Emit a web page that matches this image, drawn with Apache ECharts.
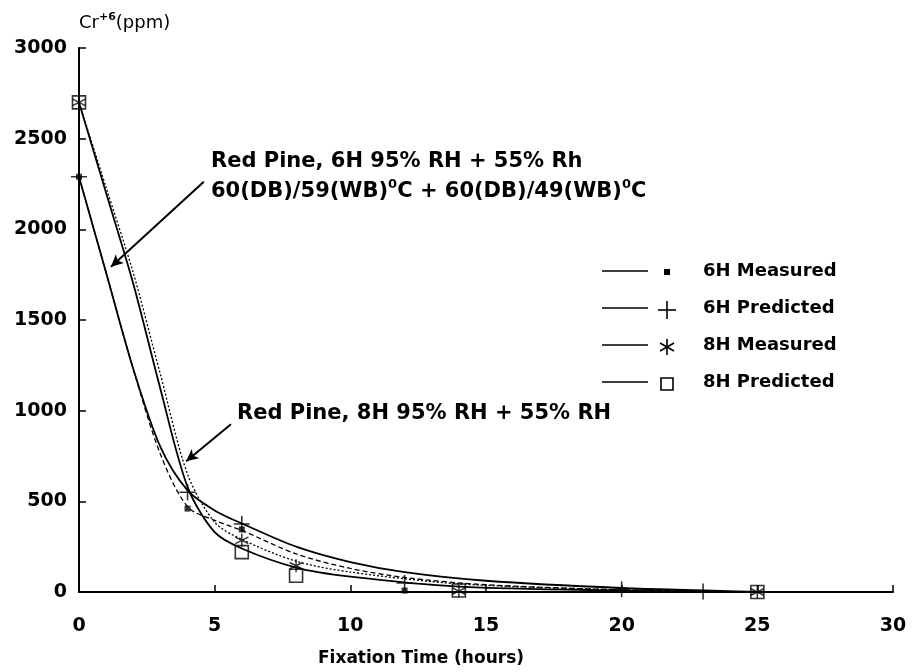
<!DOCTYPE html>
<html>
<head>
<meta charset="utf-8">
<script src="https://cdn.jsdelivr.net/npm/echarts@6/dist/echarts.min.js"></script>
<style>
  html, body { margin: 0; padding: 0; background: #fff; }
  #main { width: 914px; height: 672px; }
</style>
</head>
<body>
<div id="main"></div>
<script>
// tick values
var xTicks = [0, 5, 10, 15, 20, 25, 30];
var yTicks = [0, 500, 1000, 1500, 2000, 2500, 3000];

// plotted markers [hours, ppm]
var measured6H = [[0, 2290], [4, 460], [6, 345], [12, 8]];
var predicted6H = [[0, 2290], [4, 550], [6, 375], [12, 50], [20, 15], [23, 3]];
var measured8H = [[0, 2700], [6, 285], [8, 145], [14, 5], [25, 0]];
var predicted8H = [[0, 2700], [6, 220], [8, 90], [14, 8], [25, 0]];

// fitted curves
var curve6HPred = [[0, 2290], [1, 1760], [2, 1230], [3, 800], [4, 560], [5, 450], [6, 378], [8, 250], [10, 165], [12, 110], [15, 62], [20, 22], [25, 0]];
var curve6HMeas = [[0, 2290], [1, 1760], [2, 1230], [3, 760], [4, 470], [5, 395], [6, 340], [8, 210], [10, 130], [12, 80], [15, 40], [20, 12], [25, 0]];
var curve8HMeas = [[0, 2700], [1, 2230], [2, 1760], [3, 1200], [4, 650], [5, 385], [6, 290], [8, 170], [10, 110], [14, 45], [20, 12], [25, 0]];
var curve8HPred = [[0, 2700], [1, 2200], [2, 1700], [3, 1120], [4, 580], [5, 330], [6, 240], [8, 135], [10, 85], [14, 30], [20, 8], [25, 0]];

// annotation arrows [from, to] in data units
var arrow6H = [[4.6, 2262], [1.18, 1794]];
var arrow8H = [[5.6, 925], [3.95, 721]];

var FONT = 'DejaVu Sans';
var PLUS = 'path://M0,10L20,10M10,0L10,20';
var STAR = 'path://M10,0L10,20M1.3,5L18.7,15M1.3,15L18.7,5';

function curve(name, data, type, width) {
  return {
    name: name, type: 'line', data: data, smooth: 0.3,
    showSymbol: false, silent: true,
    lineStyle: { color: '#000', width: width, type: type }
  };
}

function marks(name, data, symbol, size, style) {
  return {
    name: name, type: 'scatter', data: data, symbol: symbol, symbolSize: size,
    itemStyle: style, z: 5
  };
}

var myChart = echarts.init(document.getElementById('main'));

var option = {
  backgroundColor: '#fff',
  animation: false,
  grid: { left: 79, right: 21, top: 48, bottom: 79 },
  xAxis: {
    type: 'value', min: 0, max: 30, interval: 5,
    name: 'Fixation Time (hours)', nameLocation: 'middle', nameGap: 58,
    nameTextStyle: { fontFamily: FONT, fontWeight: 'bold', fontSize: 17, color: '#000', padding: [0, 130, 0, 0] },
    axisLine: { lineStyle: { color: '#000', width: 2 } },
    axisTick: { inside: true, length: 7, lineStyle: { color: '#000', width: 1.5 } },
    axisLabel: { fontFamily: FONT, fontWeight: 'bold', fontSize: 19, color: '#000', margin: 25,
      formatter: function (v) { return xTicks.indexOf(v) >= 0 ? String(v) : ''; } },
    splitLine: { show: false }
  },
  yAxis: {
    type: 'value', min: 0, max: 3000, interval: 500,
    name: '{n|Cr}{s|+6}{n|(ppm)}', nameLocation: 'end', nameGap: 16,
    nameTextStyle: { align: 'left',
      rich: {
        n: { fontFamily: FONT, fontSize: 18, color: '#000', lineHeight: 20, verticalAlign: 'bottom' },
        s: { fontFamily: FONT, fontWeight: 'bold', fontSize: 11, color: '#000', lineHeight: 13, verticalAlign: 'top' }
      } },
    axisLine: { show: true, lineStyle: { color: '#000', width: 2 } },
    axisTick: { inside: true, length: 7, lineStyle: { color: '#000', width: 1.5 } },
    axisLabel: { fontFamily: FONT, fontWeight: 'bold', fontSize: 19, color: '#000', margin: 12,
      formatter: function (v) { return yTicks.indexOf(v) >= 0 ? String(v) : ''; } },
    splitLine: { show: false }
  },
  series: [
    curve('6H Predicted curve', curve6HPred, 'solid', 1.8),
    curve('6H Measured curve', curve6HMeas, [5, 3], 1.3),
    curve('8H Measured curve', curve8HMeas, [2, 2], 1.3),
    curve('8H Predicted curve', curve8HPred, 'solid', 1.8),
    marks('6H Measured', measured6H, 'rect', 6, { color: '#000' }),
    marks('6H Predicted', predicted6H, PLUS, 16, { color: 'none', borderColor: '#000', borderWidth: 1.6 }),
    marks('8H Measured', measured8H, STAR, 13, { color: 'none', borderColor: '#000', borderWidth: 1.5 }),
    marks('8H Predicted', predicted8H, 'rect', 13, { color: 'rgba(255,255,255,0)', borderColor: '#000', borderWidth: 1.6 }),
    {
      type: 'line', data: [], silent: true,
      markLine: {
        silent: true, symbol: ['none', 'arrow'], symbolSize: [9, 12],
        label: { show: false },
        lineStyle: { color: '#000', width: 2, type: 'solid' },
        data: [
          [{ coord: arrow6H[0] }, { coord: arrow6H[1] }],
          [{ coord: arrow8H[0] }, { coord: arrow8H[1] }]
        ]
      }
    }
  ],
  graphic: [
    { type: 'text', left: 211, top: 151, style: { text: 'Red Pine, 6H 95% RH + 55% Rh', font: 'bold 21px "DejaVu Sans"', fill: '#000' } },
    { type: 'text', left: 211, top: 178, style: {
      text: '{n|60(DB)/59(WB)}{s|0}{n|C + 60(DB)/49(WB)}{s|0}{n|C}', fill: '#000',
      rich: {
        n: { fontFamily: FONT, fontWeight: 'bold', fontSize: 21, lineHeight: 24, verticalAlign: 'bottom' },
        s: { fontFamily: FONT, fontWeight: 'bold', fontSize: 13, lineHeight: 16, verticalAlign: 'top' }
      }
    } },
    { type: 'text', left: 237, top: 403, style: { text: 'Red Pine, 8H 95% RH + 55% RH', font: 'bold 21px "DejaVu Sans"', fill: '#000' } }
  ]
};

// hand-drawn legend: line, marker, label
var legendRows = [
  { label: '6H Measured', y: 273 },
  { label: '6H Predicted', y: 310 },
  { label: '8H Measured', y: 347 },
  { label: '8H Predicted', y: 384 }
];
legendRows.forEach(function (r, i) {
  option.graphic.push({ type: 'line', shape: { x1: 602, y1: r.y - 2, x2: 648, y2: r.y - 2 }, style: { stroke: '#000', lineWidth: 1.6 } });
  var sx = 667, sy = r.y;
  if (i === 0) {
    option.graphic.push({ type: 'rect', shape: { x: sx - 3, y: sy - 4, width: 6, height: 6 }, style: { fill: '#000' } });
  } else if (i === 1) {
    option.graphic.push({ type: 'line', shape: { x1: sx - 9, y1: sy, x2: sx + 9, y2: sy }, style: { stroke: '#000', lineWidth: 1.6 } });
    option.graphic.push({ type: 'line', shape: { x1: sx, y1: sy - 9, x2: sx, y2: sy + 9 }, style: { stroke: '#000', lineWidth: 1.6 } });
  } else if (i === 2) {
    option.graphic.push({ type: 'line', shape: { x1: sx, y1: sy - 8, x2: sx, y2: sy + 8 }, style: { stroke: '#000', lineWidth: 1.6 } });
    option.graphic.push({ type: 'line', shape: { x1: sx - 7, y1: sy - 4, x2: sx + 7, y2: sy + 4 }, style: { stroke: '#000', lineWidth: 1.6 } });
    option.graphic.push({ type: 'line', shape: { x1: sx - 7, y1: sy + 4, x2: sx + 7, y2: sy - 4 }, style: { stroke: '#000', lineWidth: 1.6 } });
  } else {
    option.graphic.push({ type: 'rect', shape: { x: sx - 6, y: sy - 6, width: 12, height: 12 }, style: { fill: '#fff', stroke: '#000', lineWidth: 1.6 } });
  }
  option.graphic.push({ type: 'text', left: 703, top: r.y - 11, style: { text: r.label, font: 'bold 18px "DejaVu Sans"', fill: '#000' } });
});

myChart.setOption(option);
</script>
</body>
</html>
